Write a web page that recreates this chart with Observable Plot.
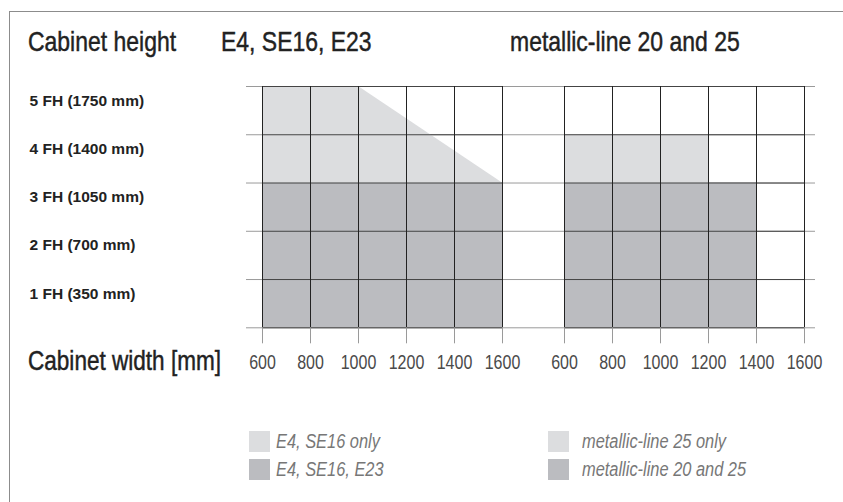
<!DOCTYPE html>
<html><head><meta charset="utf-8">
<script src="https://cdn.jsdelivr.net/npm/d3@7"></script>
<script src="https://cdn.jsdelivr.net/npm/@observablehq/plot@0.6"></script>
<style>
body{margin:0;background:#fff;}
#wrap{position:relative;width:843px;height:502px;overflow:hidden;font-family:"Liberation Sans",Arial,sans-serif;}
#frame{position:absolute;left:9px;top:11px;width:900px;height:600px;border:1.5px solid #8c8c8c;}
.t{position:absolute;font-size:28px;color:#222;white-space:nowrap;line-height:1;transform:scaleX(0.82);transform-origin:0 0;-webkit-text-stroke:0.45px #222;}
#chart{position:absolute;left:0;top:60px;}
.leg{position:absolute;font-style:italic;font-size:20px;color:#777;white-space:nowrap;line-height:21px;transform:scaleX(0.82);transform-origin:0 0;}
.sw{position:absolute;width:21px;height:21px;}
</style></head><body><div id="wrap">
<div id="frame"></div>
<div class="t" style="left:28px;top:28px">Cabinet height</div>
<div class="t" id="h0" style="left:221px;top:28px"></div>
<div class="t" id="h1" style="left:510px;top:28px"></div>
<div id="chart"></div>
<div class="t" style="left:28px;top:346.5px;font-size:27.5px">Cabinet width [mm]</div>
<div id="legend"></div>
</div>
<script>
// ---- data ----
const facets = ["E4, SE16, E23", "metallic-line 20 and 25"];
const widthTicks = [600, 800, 1000, 1200, 1400, 1600];
const heightLabels = ["1 FH (350 mm)", "2 FH (700 mm)", "3 FH (1050 mm)", "4 FH (1400 mm)", "5 FH (1750 mm)"];
const heightLevels = [0, 1, 2, 3, 4, 5];
// max cabinet height (FH) per width column (600-800, ..., 1400-1600)
const e23AllMax = [3, 3, 3, 3, 3];          // E4, SE16, E23
const ml2025Max = [3, 3, 3, 3, 0];          // metallic-line 20 and 25
const ml25OnlyMax = [4, 4, 4, 0, 0];        // metallic-line 25 only
// E4, SE16 only region outline (width -> top FH), above 3 FH
const e4OnlyWidth = [600, 1000, 1600];
const e4OnlyTop = [5, 5, 3];
const e4OnlyBase = 3;
const legendLabels = [["E4, SE16 only", "E4, SE16, E23"], ["metallic-line 25 only", "metallic-line 20 and 25"]];
const colorOnly = "#dcdddf";
const colorAll = "#bbbcc0";

document.getElementById("h0").textContent = facets[0];
document.getElementById("h1").textContent = facets[1];

// build cells
const cells = [];
function addCells(facet, bases, tops, kind) {
  for (let i = 0; i < tops.length; i++) {
    const b = typeof bases === "number" ? bases : bases[i];
    if (tops[i] > b) cells.push({fx: facet, x1: widthTicks[i], x2: widthTicks[i + 1], y1: b, y2: tops[i], kind});
  }
}
addCells(facets[0], 0, e23AllMax, "all");
addCells(facets[1], 0, ml2025Max, "all");
addCells(facets[1], ml2025Max, ml25OnlyMax, "only");
const e4Only = e4OnlyWidth.map((w, i) => ({fx: facets[0], w, top: e4OnlyTop[i], base: e4OnlyBase}));

const plot = Plot.plot({
  width: 843,
  height: 330,
  marginTop: 26,
  marginBottom: 62.7,
  marginLeft: 261,
  marginRight: 38,
  style: {fontFamily: '"Liberation Sans",Arial,sans-serif', fontSize: "19.5px", color: "#333", background: "transparent"},
  fx: {domain: facets, paddingInner: 0.2046, paddingOuter: 0, axis: null},
  x: {domain: [600, 1600]},
  y: {domain: [0, 5]},
  marks: [
    Plot.ruleY(heightLevels, {fx: () => facets[0], stroke: "#9a9a9a", insetLeft: -16, insetRight: -31}),
    Plot.ruleY(heightLevels, {fx: () => facets[1], stroke: "#9a9a9a", insetLeft: -31, insetRight: -11}),
    Plot.rect(cells, {fx: "fx", x1: "x1", x2: "x2", y1: "y1", y2: "y2", fill: d => d.kind === "all" ? colorAll : colorOnly}),
    Plot.areaY(e4Only, {fx: "fx", x: "w", y1: "base", y2: "top", fill: colorOnly}),
    Plot.ruleY(heightLevels, {stroke: "#444"}),
    Plot.ruleX(widthTicks, {stroke: "#222"}),
    Plot.axisX(widthTicks, {tickSize: 16, tickPadding: 11, stroke: "#9a9a9a", fill: "#4a4a4a", tickFormat: d => String(d)}),
    Plot.axisY(heightLabels.map((_, i) => i + 0.5), {
      tickFormat: d => heightLabels[Math.floor(d)], tickSize: 0, tickPadding: 233, textAnchor: "start",
      dy: -10, fontSize: 15.5, fontWeight: "bold", fill: "#222"
    })
  ]
});
document.getElementById("chart").appendChild(plot);
// condensed look for the width tick labels
plot.querySelectorAll('g[aria-label="x-axis tick label"] text').forEach(t => {
  const w = t.getComputedTextLength();
  t.setAttribute("textLength", (w * 0.82).toFixed(2));
  t.setAttribute("lengthAdjust", "spacingAndGlyphs");
});

// legend
const leg = document.getElementById("legend");
const legX = [[249, 276], [548, 582]];
const legY = [431, 459];
const legC = [colorOnly, colorAll];
legendLabels.forEach((pair, g) => pair.forEach((lab, r) => {
  const s = document.createElement("div");
  s.className = "sw"; s.style.left = legX[g][0] + "px"; s.style.top = legY[r] + "px"; s.style.background = legC[r];
  leg.appendChild(s);
  const t = document.createElement("div");
  t.className = "leg"; t.style.left = legX[g][1] + "px"; t.style.top = legY[r] + "px"; t.textContent = lab;
  leg.appendChild(t);
}));
</script>
</body></html>
